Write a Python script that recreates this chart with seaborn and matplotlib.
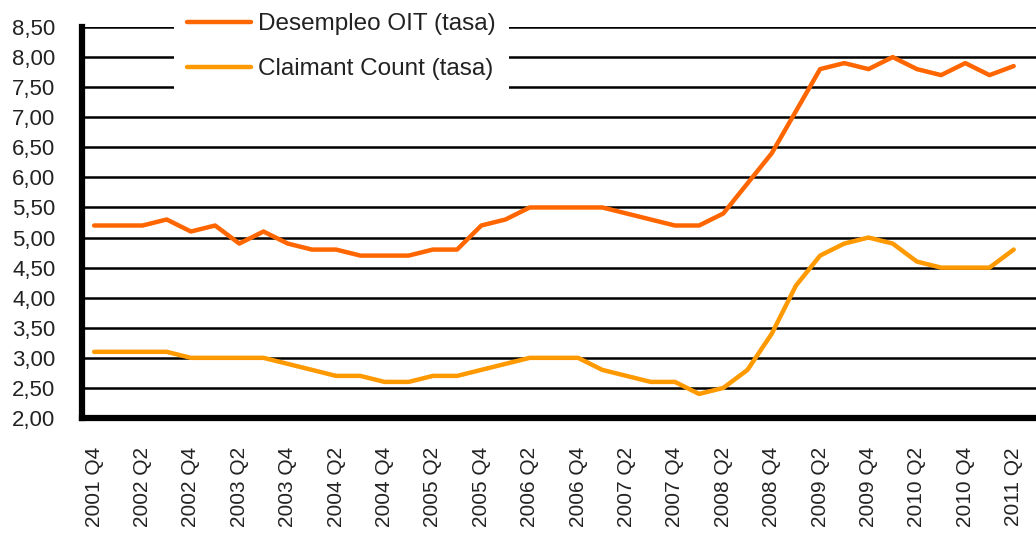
import matplotlib
matplotlib.use("Agg")
import matplotlib.pyplot as plt
import matplotlib.ticker as mticker
import seaborn as sns
import pandas as pd
import numpy as np

quarters = ["2001 Q4",
            "2002 Q1", "2002 Q2", "2002 Q3", "2002 Q4",
            "2003 Q1", "2003 Q2", "2003 Q3", "2003 Q4",
            "2004 Q1", "2004 Q2", "2004 Q3", "2004 Q4",
            "2005 Q1", "2005 Q2", "2005 Q3", "2005 Q4",
            "2006 Q1", "2006 Q2", "2006 Q3", "2006 Q4",
            "2007 Q1", "2007 Q2", "2007 Q3", "2007 Q4",
            "2008 Q1", "2008 Q2", "2008 Q3", "2008 Q4",
            "2009 Q1", "2009 Q2", "2009 Q3", "2009 Q4",
            "2010 Q1", "2010 Q2", "2010 Q3", "2010 Q4",
            "2011 Q1", "2011 Q2"]

desempleo_oit = [5.2, 5.2, 5.2, 5.3, 5.1, 5.2, 4.9, 5.1, 4.9, 4.8, 4.8, 4.7, 4.7,
                 4.7, 4.8, 4.8, 5.2, 5.3, 5.5, 5.5, 5.5, 5.5, 5.4, 5.3, 5.2, 5.2,
                 5.4, 5.9, 6.4, 7.1, 7.8, 7.9, 7.8, 8.0, 7.8, 7.7, 7.9, 7.7, 7.85]

claimant_count = [3.1, 3.1, 3.1, 3.1, 3.0, 3.0, 3.0, 3.0, 2.9, 2.8, 2.7, 2.7, 2.6,
                  2.6, 2.7, 2.7, 2.8, 2.9, 3.0, 3.0, 3.0, 2.8, 2.7, 2.6, 2.6, 2.4,
                  2.5, 2.8, 3.4, 4.2, 4.7, 4.9, 5.0, 4.9, 4.6, 4.5, 4.5, 4.5, 4.8]

series_names = ["Desempleo OIT (tasa)", "Claimant Count (tasa)"]
colores = ["#FF6600", "#FF9900"]

# long form table for seaborn
df = pd.DataFrame({
    "pos": list(range(len(quarters))) * 2,
    "valor": desempleo_oit + claimant_count,
    "serie": [series_names[0]] * len(quarters) + [series_names[1]] * len(quarters),
})

sns.set_style("white")
plt.rcParams['font.family'] = ['Liberation Sans', 'DejaVu Sans']

fig = plt.figure(figsize=(10.36, 5.34), dpi=100)
ax = fig.add_axes([82 / 1036, 1 - 418 / 534, 1 - 82 / 1036, (418 - 27) / 534])

sns.lineplot(data=df, x="pos", y="valor", hue="serie", palette=colores,
             hue_order=series_names, linewidth=3.2, ax=ax, legend=False, zorder=3)

# axes limits and grid
ax.set_ylim(2.0, 8.5)
ax.set_xlim(-0.5, -0.5 + 954 / 24.2)
ax.yaxis.set_major_locator(mticker.MultipleLocator(0.5))
ax.yaxis.set_major_formatter(mticker.FuncFormatter(lambda v, p: f"{v:.2f}".replace(".", ",")))
ax.grid(axis="y", color="black", linewidth=1.8, zorder=1)
ax.grid(axis="x", visible=False)
ax.set_axisbelow(True)

# x: labels every two quarters, tick marks at category boundaries
ax.set_xticks(np.arange(0, len(quarters), 2))
ax.set_xticklabels(quarters[::2], rotation=90, fontsize=15, color="#222222")
ax.set_xticks(np.arange(-0.5, len(quarters), 1), minor=True)
ax.tick_params(axis="x", which="major", length=0, pad=21)
ax.tick_params(axis="x", which="minor", length=5, width=2.2, color="black", direction="out")
ax.tick_params(axis="y", length=5, width=2.2, color="black", labelsize=16,
               labelcolor="#222222", pad=14)

for s in ["top", "right"]:
    ax.spines[s].set_visible(False)
for s in ["left", "bottom"]:
    ax.spines[s].set_color("black")
    ax.spines[s].set_linewidth(4.5)

ax.set_xlabel("")
ax.set_ylabel("")

# legend over the grid with white box
handles = [plt.Line2D([], [], color=c, linewidth=3.2) for c in colores]
leg = ax.legend(handles, series_names, loc="upper left",
                bbox_to_anchor=(174 / 1036, 1.0), bbox_transform=fig.transFigure,
                fontsize=17.5, frameon=True, facecolor="white", edgecolor="none",
                framealpha=1, fancybox=False, handlelength=2.63, handletextpad=0.29,
                labelspacing=0.94, borderpad=0.55, borderaxespad=0)
for t in leg.get_texts():
    t.set_color("#222222")

fig.savefig("out.png", dpi=100)
